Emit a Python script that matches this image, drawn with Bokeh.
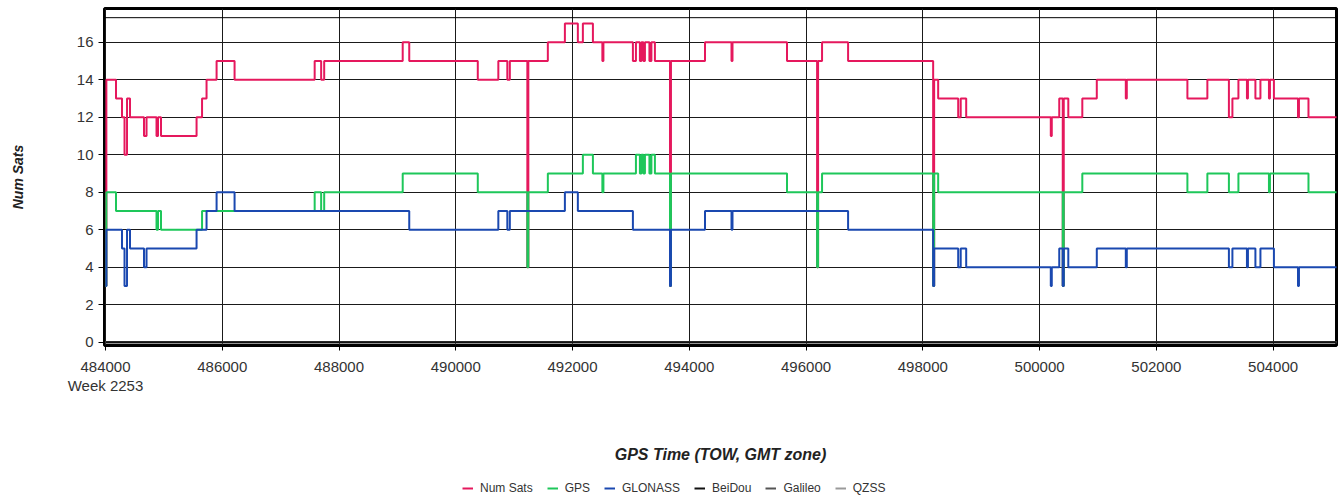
from bokeh.plotting import figure
from bokeh.layouts import column
from bokeh.models import FixedTicker, Span, Legend, LegendItem, LinearAxis
from bokeh.embed import file_html
from bokeh.resources import INLINE

# GPS time of week (s) at each change of satellite counts
tow = [484000, 484015, 484180, 484283, 484326, 484369, 484420, 484660, 484703, 484874,
       484900, 484951, 485560, 485654, 485731, 485903, 486211, 487583, 487694, 487746,
       489091, 489203, 490377, 490729, 490883, 490926, 491226, 491243, 491577, 491869,
       492091, 492177, 492349, 492511, 492529, 493034, 493086, 493154, 493180, 493214,
       493240, 493317, 493351, 493411, 493669, 493686, 494269, 494723, 494740, 495674,
       496189, 496206, 496274, 496720, 498177, 498194, 498263, 498606, 498649, 498743,
       500192, 500209, 500337, 500397, 500414, 500492, 500732, 500980, 501477, 501494,
       502532, 502874, 503243, 503303, 503406, 503552, 503569, 503697, 503783, 503929,
       503946, 504014, 504426, 504443, 504606, 505100]
num_sats = [3, 14, 13, 12, 10, 13, 12, 11, 12, 11,
            12, 11, 12, 13, 14, 15, 14, 15, 14, 15,
            16, 15, 14, 15, 14, 15, 4, 15, 16, 17,
            16, 17, 16, 15, 16, 15, 16, 15, 16, 15,
            16, 15, 16, 15, 3, 15, 16, 15, 16, 15,
            4, 15, 16, 15, 3, 14, 13, 12, 13, 12,
            11, 12, 13, 3, 13, 12, 13, 14, 13, 14,
            13, 14, 12, 13, 14, 13, 14, 13, 14, 13,
            14, 13, 12, 13, 12, 12]
gps = [3, 8, 7, 7, 7, 7, 7, 7, 7, 6,
       7, 6, 6, 7, 7, 7, 7, 8, 7, 8,
       9, 9, 8, 8, 8, 8, 4, 8, 9, 9,
       9, 10, 9, 8, 9, 9, 10, 9, 10, 9,
       10, 9, 10, 9, 3, 9, 9, 9, 9, 8,
       4, 8, 9, 9, 3, 9, 8, 8, 8, 8,
       8, 8, 8, 3, 8, 8, 9, 9, 9, 9,
       8, 9, 8, 8, 9, 9, 9, 9, 9, 8,
       9, 9, 9, 9, 8, 8]
glonass = [3, 6, 6, 5, 3, 6, 5, 4, 5, 5,
           5, 5, 6, 6, 7, 8, 7, 7, 7, 7,
           7, 6, 6, 7, 6, 7, 7, 7, 7, 8,
           7, 7, 7, 7, 7, 6, 6, 6, 6, 6,
           6, 6, 6, 6, 3, 6, 7, 6, 7, 7,
           7, 7, 7, 6, 3, 5, 5, 4, 5, 4,
           3, 4, 5, 3, 5, 4, 4, 5, 4, 5,
           5, 5, 4, 5, 5, 4, 5, 4, 5, 5,
           5, 4, 3, 4, 4, 4]
tow_span = [484000, 505100]
beidou = [0, 0]
galileo = [0, 0]
qzss = [0, 0]

x_ticks = [484000, 486000, 488000, 490000, 492000, 494000, 496000, 498000, 500000, 502000, 504000]
y_ticks = [0, 2, 4, 6, 8, 10, 12, 14, 16]
week_label = "Week 2253"
series_names = ["Num Sats", "GPS", "GLONASS", "BeiDou", "Galileo", "QZSS"]
colors = ["#E5185D", "#1EC75A", "#1A48B0", "#111111", "#555555", "#9a9a9a"]
series_x = [tow, tow, tow, tow_span, tow_span, tow_span]
series_y = [num_sats, gps, glonass, beidou, galileo, qzss]

assert len(tow) == len(num_sats) == len(gps) == len(glonass)

FONT = "Liberation Sans"

p = figure(width=1340, height=478, output_backend="svg", toolbar_location=None,
           x_range=(483983, 505086), y_range=(-0.176, 17.80),
           min_border_left=104, min_border_right=4, min_border_top=8, min_border_bottom=133,
           background_fill_color="white", border_fill_color="white")

p.outline_line_color = "black"
p.outline_line_width = 3

p.step(tow, num_sats, mode="after", line_color=colors[0], line_width=2)
p.step(tow, gps, mode="after", line_color=colors[1], line_width=2)
p.step(tow, glonass, mode="after", line_color=colors[2], line_width=2)
p.line(tow_span, qzss, line_color=colors[5], line_width=2)
p.line(tow_span, galileo, line_color=colors[4], line_width=2)
p.line(tow_span, beidou, line_color=colors[3], line_width=2)

p.add_layout(Span(location=17.31, dimension="width", line_color="black", line_width=1))

# grids
for g in (p.xgrid, p.ygrid):
    g.grid_line_color = "#1a1a1a"
    g.grid_line_width = 1
p.xaxis.ticker = FixedTicker(ticks=x_ticks)
p.yaxis.ticker = FixedTicker(ticks=y_ticks)
p.xgrid.ticker = FixedTicker(ticks=x_ticks)
p.ygrid.ticker = FixedTicker(ticks=y_ticks)

# second bottom axis that carries the week label and the axis title
week_axis = LinearAxis(ticker=FixedTicker(ticks=[x_ticks[0]]),
                       major_label_overrides={x_ticks[0]: week_label})
p.add_layout(week_axis, "below")

axes = [p.xaxis[0], p.yaxis[0], week_axis]
for ax in axes:
    ax.axis_line_color = None
    ax.major_tick_line_color = "black"
    ax.major_tick_line_width = 1
    ax.major_tick_in = 0
    ax.minor_tick_line_color = None
    ax.major_label_text_font = FONT
    ax.major_label_text_font_size = "15px"
    ax.major_label_text_color = "#333333"
    ax.axis_label_text_font = FONT
    ax.axis_label_text_font_style = "bold italic"
    ax.axis_label_text_color = "#222222"

p.xaxis[0].major_tick_out = 5
p.xaxis[0].major_label_standoff = 11
p.xaxis[0].formatter.use_scientific = False

week_axis.major_tick_line_color = None
week_axis.major_tick_out = 0
week_axis.major_label_standoff = 2
week_axis.axis_label = "GPS Time (TOW, GMT zone)"
week_axis.axis_label_text_font_size = "16px"
week_axis.axis_label_standoff = 49

p.yaxis.major_tick_out = 6
p.yaxis.major_label_standoff = 5
p.yaxis.axis_label = "Num Sats"
p.yaxis.axis_label_text_font_size = "14px"
p.yaxis.axis_label_standoff = 48

# legend strip below the chart (series drawn off-view, only their samples show)
lg = figure(width=1340, height=22, output_backend="svg", toolbar_location=None,
            x_range=(0, 1), y_range=(0, 1), x_axis_location=None, y_axis_location=None,
            min_border_left=0, min_border_right=0, min_border_top=0, min_border_bottom=0,
            outline_line_color=None, background_fill_color="white", border_fill_color="white")
lg.xgrid.visible = False
lg.ygrid.visible = False
items = []
for name, col, xs, ys in zip(series_names, colors, series_x, series_y):
    r = lg.line(xs, ys, line_color=col, line_width=2)
    items.append(LegendItem(label=name, renderers=[r]))
legend = Legend(items=items, orientation="horizontal", location=(358, 5),
                label_text_font=FONT, label_text_font_size="12px", label_text_color="#333333",
                glyph_width=11, glyph_height=12, label_height=12, label_standoff=7, spacing=14,
                padding=0, margin=0, border_line_color=None, background_fill_alpha=0)
lg.add_layout(legend, "center")

layout = column(p, lg, spacing=0)
open("out.html", "w").write(file_html(layout, INLINE))
